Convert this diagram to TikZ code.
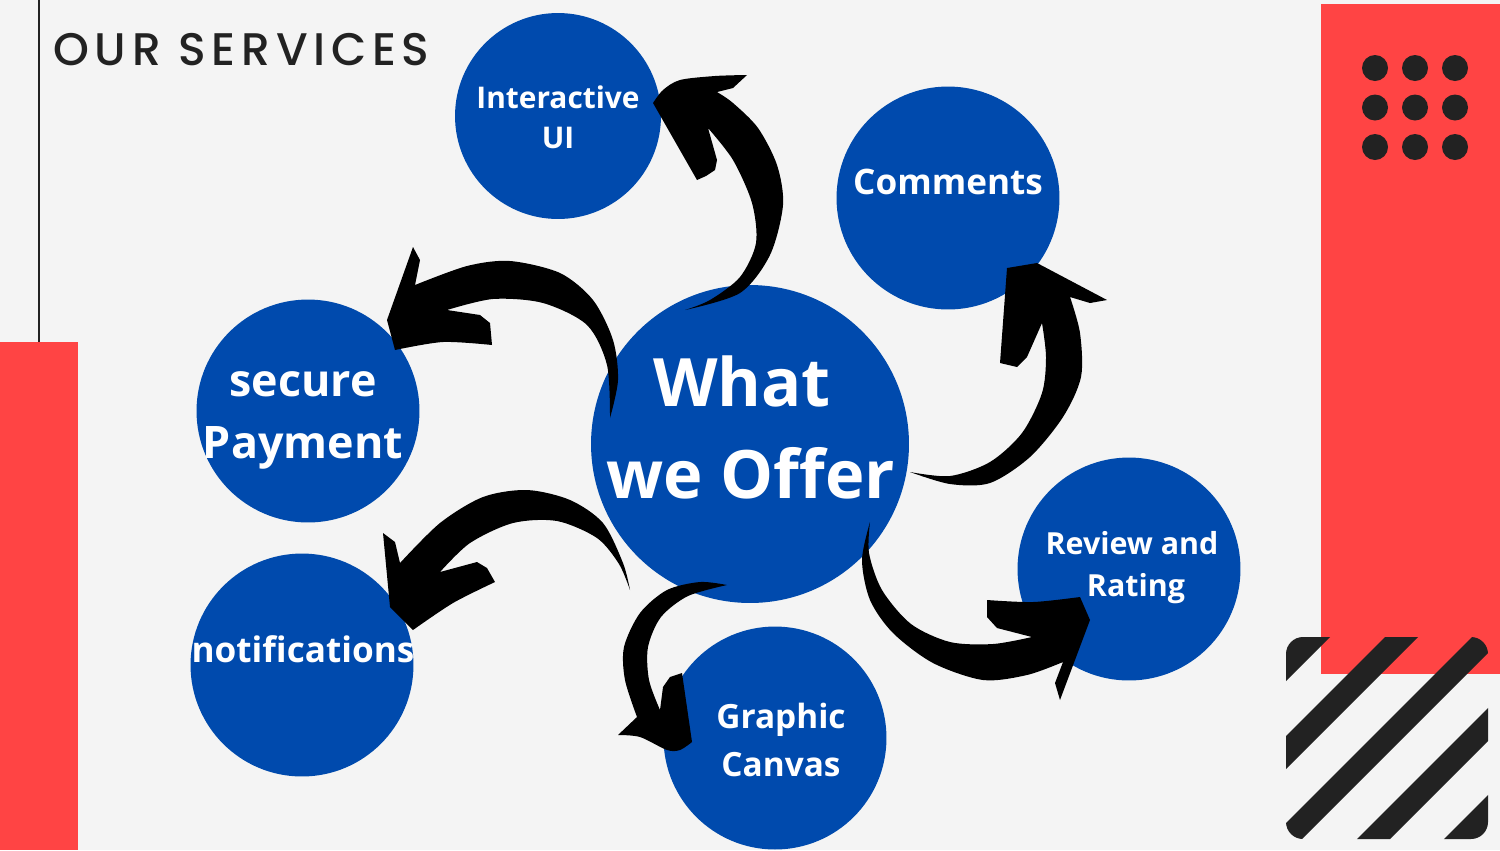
\documentclass[tikz,border=0pt]{standalone}
\usepackage{fontspec}
\newfontfamily\osans{Open Sans}
\newfontfamily\titlefont{Poppins}[UprightFont=* Medium, LetterSpace=12.5]
\definecolor{bgc}{HTML}{F4F4F4}
\definecolor{redc}{HTML}{FF4444}
\definecolor{bluec}{HTML}{004AAD}
\definecolor{darkc}{HTML}{222222}
\tikzset{
  bub/.style={circle, fill=bluec, inner sep=0pt, draw=none},
  lbl/.style={text=white, inner sep=0pt, anchor=base, font=\osans\bfseries\fontsize{#1pt}{#1pt}\selectfont},
  brush/.style={fill=black},
  dot/.style={circle, fill=darkc, minimum size=0.52cm, inner sep=0pt},
}
\begin{document}
\begin{tikzpicture}[x=0.02cm, y=-0.02cm]
\useasboundingbox (0,0) rectangle (1500,850);
\fill[bgc] (0,0) rectangle (1500,850);
% left decoration
\fill[darkc] (38,0) rectangle (40,342);
\fill[redc] (0,342) rectangle (78,850);
% right decoration
\fill[redc] (1321,4) rectangle (1500,674);
\foreach \i in {0,1,2} \foreach \j in {0,1,2}
  \node[dot] (d\i\j) at (1375+40*\i, 68+39.5*\j) {};
\begin{scope}
  \clip[rounded corners=0.34cm] (1286,637) rectangle (1488,839);
  \foreach \a/\b in {1880/1967, 2022/2055, 2109/2141, 2196/2229, 2283/2380}
    \fill[darkc] (\a-600,600) -- (\b-600,600) -- (\b-880,880) -- (\a-880,880) -- cycle;
\end{scope}
% title
\node[anchor=base west, inner sep=0pt, text=darkc, font=\titlefont\fontsize{26pt}{26pt}\selectfont] (title) at (53,65) {OUR SERVICES};
% circles
\node[bub, minimum size=4.12cm] (ui) at (558,116) {};
\node[bub, minimum size=4.46cm] (com) at (948,198) {};
\node[bub, minimum size=4.46cm] (pay) at (308,411) {};
\node[bub, minimum size=6.36cm] (what) at (750,444) {};
\node[bub, minimum size=4.46cm] (noti) at (302,665) {};
\node[bub, minimum size=4.46cm] (rev) at (1129,569) {};
\node[bub, minimum size=4.46cm] (gra) at (775,738) {};
% brush arrows
% to Interactive UI
\fill[brush] plot[smooth] coordinates {(685,310) (740,293) (770,255) (783,205) (777,165) (758,128) (733,103) (717,92)}
  -- (733,88) -- (747,75)
  -- plot[smooth] coordinates {(747,75) (715,76) (680,80) (663,90) (653,103)}
  -- (697,180) -- (706,176) -- (715,170) -- (717,160) -- (708,128)
  -- plot[smooth] coordinates {(708,128) (733,160) (752,203) (756,243) (740,277) (710,300) (685,310)} -- cycle;
% to secure Payment
\fill[brush] plot[smooth] coordinates {(610,418) (618,380) (613,340) (593,300) (560,273) (510,261) (467,266) (415,285)}
  -- (420,260) -- (413,247) -- (387,320) -- (395,350)
  -- plot[smooth] coordinates {(395,350) (443,342) (492,345)}
  -- (490,323) -- (480,315) -- (447,310)
  -- plot[smooth] coordinates {(447,310) (493,299) (543,303) (587,325) (607,365) (610,418)} -- cycle;
% to notifications
\fill[brush] plot[smooth] coordinates {(630,590) (623,563) (603,523) (570,500) (527,490) (483,497) (440,523) (400,563)}
  -- (395,542) -- (383,533) -- (390,607) -- (413,630)
  -- plot[smooth] coordinates {(413,630) (453,603) (495,582)}
  -- (487,568) -- (477,562) -- (440,572)
  -- plot[smooth] coordinates {(440,572) (470,543) (513,523) (557,521) (597,538) (619,564) (630,590)} -- cycle;
% to Graphic Canvas
\fill[brush] plot[smooth] coordinates {(727,585) (700,582) (667,590) (640,613) (624,647) (625,680) (637,717)}
  -- (618,735)
  -- plot[smooth] coordinates {(618,735) (640,737) (667,750) (680,750) (692,742)}
  -- (682,673) -- (670,677) -- (663,687) -- (660,710)
  -- plot[smooth] coordinates {(660,710) (649,680) (648,647) (661,617) (688,596) (727,585)} -- cycle;
% to Review and Rating
\fill[brush] plot[smooth] coordinates {(870,522) (862,560) (870,600) (893,633) (933,663) (983,680) (1027,675) (1063,662)}
  -- (1055,683) -- (1060,700) -- (1090,620) -- (1080,597)
  -- plot[smooth] coordinates {(1080,597) (1033,602) (987,600)}
  -- (987,617) -- (997,628) -- (1032,637)
  -- plot[smooth] coordinates {(1032,637) (993,644) (950,642) (911,624) (882,590) (869,553) (870,522)} -- cycle;
% to Comments
\fill[brush] plot[smooth] coordinates {(910,472) (950,484) (990,483) (1030,457) (1063,417) (1081,377) (1080,333) (1070,297)}
  -- (1090,303) -- (1107,300) -- (1037,263) -- (1007,268)
  -- (1000,363) -- (1017,367) -- (1027,357) -- (1042,323)
  -- plot[smooth] coordinates {(1042,323) (1046,357) (1042,393) (1022,433) (990,462) (950,476) (910,472)} -- cycle;
% labels
\node[lbl=17] (t1a) at (558,108) {Interactive};
\node[lbl=17] (t1b) at (558,148) {UI};
\node[lbl=20] (t2) at (948,194) {Comments};
\node[lbl=25.5] (t3a) at (303,396) {secure};
\node[lbl=25.5] (t3b) at (303,458) {Payment};
\node[lbl=38] (t4a) at (742,406) {What};
\node[lbl=38] (t4b) at (751,498) {we Offer};
\node[lbl=20] (t5) at (303,662) {notifications};
\node[lbl=17.3] (t6a) at (1132,554) {Review and};
\node[lbl=17.3] (t6b) at (1136,596) {Rating};
\node[lbl=19] (t7a) at (781,728) {Graphic};
\node[lbl=19] (t7b) at (781,776) {Canvas};
\end{tikzpicture}
\end{document}
